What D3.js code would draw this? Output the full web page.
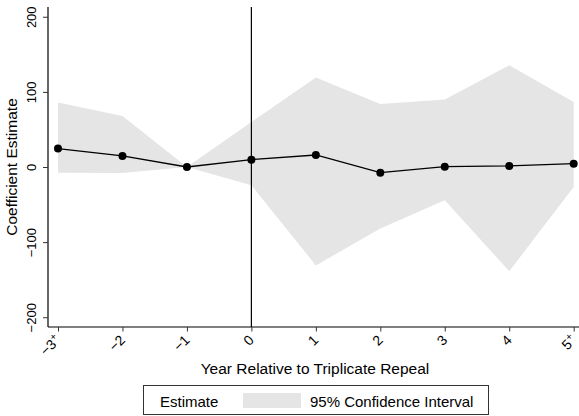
<!DOCTYPE html>
<html>
<head>
<meta charset="utf-8">
<script src="https://cdn.jsdelivr.net/npm/d3@7"></script>
<style>
  body { margin: 0; background: #fff; }
  svg { font-family: "Liberation Sans", Arial, Helvetica, sans-serif; }
</style>
</head>
<body>
<svg id="chart" width="579" height="416"></svg>
<script>
// years relative to repeal, and their tick labels
const years = [-3, -2, -1, 0, 1, 2, 3, 4, 5];
const yearLabels = ['\u22123', '\u22122', '\u22121', '0', '1', '2', '3', '4', '5'];
const binned = [true, false, false, false, false, false, false, false, true];

// point estimates and 95% CI bounds
const estimate = [24.5, 14.7, 0, 9.8, 16, -7.5, 0.4, 1.4, 4.4];
const ciUpper = [85.8, 68, 0, 60, 119, 84, 89.8, 135.5, 86.5];
const ciLower = [-7.5, -8, 0, -24.4, -131, -82, -44.4, -138.7, -26.5];

const yTicks = [-200, -100, 0, 100, 200];

const svg = d3.select('#chart');
const plotLeft = 48, plotRight = 579, plotTop = 7, plotBottom = 327;

let x = d3.scaleLinear().domain([-3, 5]).range([58, 573.7]);
let y = d3.scaleLinear().domain([-213, 213]).range([plotBottom, plotTop]);

let rows = years.map((d, i) => ({ year: d, est: estimate[i], lo: ciLower[i], hi: ciUpper[i] }));

// confidence band
svg.append('path')
  .datum(rows)
  .attr('d', d3.area().x(d => x(d.year)).y0(d => y(d.lo)).y1(d => y(d.hi)))
  .style('fill', '#e5e5e5')
  .style('stroke', 'none');

// reference line at year 0
svg.append('line')
  .attr('x1', x(0)).attr('x2', x(0))
  .attr('y1', plotTop).attr('y2', plotBottom)
  .style('stroke', '#000')
  .style('stroke-width', 1.2);

// estimate line + markers
svg.append('path')
  .datum(rows)
  .attr('d', d3.line().x(d => x(d.year)).y(d => y(d.est)))
  .style('fill', 'none')
  .style('stroke', '#000')
  .style('stroke-width', 1.3);

svg.selectAll('circle.est')
  .data(rows)
  .enter().append('circle')
  .classed('est', true)
  .attr('cx', d => x(d.year))
  .attr('cy', d => y(d.est))
  .attr('r', 4)
  .style('fill', '#000');

// y axis
let yAxis = svg.append('g')
  .attr('transform', `translate(${plotLeft},0)`)
  .call(d3.axisLeft(y).tickValues(yTicks).tickSize(5).tickFormat(d => d < 0 ? '\u2212' + Math.abs(d) : d));
yAxis.select('.domain').attr('d', `M0,${plotTop}V${plotBottom}`).style('stroke', '#000').style('stroke-width', 1.2);
yAxis.selectAll('.tick line').style('stroke', '#333');
yAxis.selectAll('.tick text')
  .attr('x', null).attr('dy', null)
  .attr('transform', 'translate(-12,0) rotate(-90)')
  .attr('text-anchor', 'middle')
  .style('font-size', '13px')
  .style('font-family', 'Liberation Sans, Arial, sans-serif')
  .style('fill', '#000');

// x axis
let xAxis = svg.append('g')
  .attr('transform', `translate(0,${plotBottom})`)
  .call(d3.axisBottom(x).tickValues(years).tickSize(4.5).tickFormat(() => ''));
xAxis.select('.domain').attr('d', `M${plotLeft},0H${plotRight}`).style('stroke', '#000').style('stroke-width', 1.2);
xAxis.selectAll('.tick line').style('stroke', '#333');
xAxis.selectAll('.tick text').remove();
xAxis.selectAll('.tick').each(function (d, i) {
  let t = d3.select(this).append('text')
    .attr('transform', 'translate(3,14) rotate(-45)')
    .attr('text-anchor', 'end')
    .style('font-size', '14px')
    .style('font-family', 'Liberation Sans, Arial, sans-serif')
    .style('fill', '#000');
  t.append('tspan').text(yearLabels[i]);
  if (binned[i]) {
    t.append('tspan').text('+').attr('dy', '-0.55em').style('font-size', '10px');
  }
});

// axis titles
svg.append('text')
  .attr('x', 315).attr('y', 374)
  .attr('text-anchor', 'middle')
  .style('font-size', '15.5px')
  .text('Year Relative to Triplicate Repeal');

svg.append('text')
  .attr('transform', `translate(17,${(plotTop + plotBottom) / 2}) rotate(-90)`)
  .attr('text-anchor', 'middle')
  .style('font-size', '15.5px')
  .text('Coefficient Estimate');

// legend
let legend = svg.append('g');
legend.append('rect')
  .attr('x', 143.5).attr('y', 385.5).attr('width', 345).attr('height', 29)
  .style('fill', '#fff').style('stroke', '#333').style('stroke-width', 1);
legend.append('text').attr('x', 160).attr('y', 406.5).style('font-size', '15px').text('Estimate');
legend.append('rect')
  .attr('x', 243).attr('y', 393).attr('width', 58).attr('height', 15)
  .style('fill', '#e5e5e5');
legend.append('text').attr('x', 310).attr('y', 406.5).style('font-size', '15px').text('95% Confidence Interval');
</script>
</body>
</html>
